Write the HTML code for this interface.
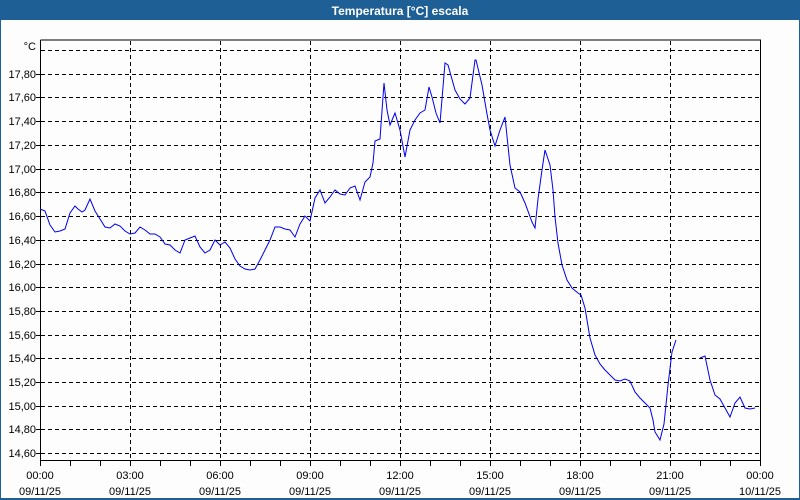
<!DOCTYPE html>
<html><head><meta charset="utf-8"><style>
body{margin:0;width:800px;height:500px;overflow:hidden;background:#fcfdfc}
svg{display:block;font-family:"Liberation Sans","DejaVu Sans",sans-serif}
</style></head><body>
<svg width="800" height="500" viewBox="0 0 800 500">
<rect x="0" y="0" width="800" height="500" fill="#1e5f96"/>
<rect x="1" y="20" width="798" height="478" fill="#fcfdfc"/>
<text x="400" y="15" text-anchor="middle" font-size="12" font-weight="bold" fill="#fff">Temperatura [°C] escala</text>
<g stroke="#000" stroke-width="1" stroke-dasharray="4,3" shape-rendering="crispEdges">
<line x1="41" x2="760" y1="50.5" y2="50.5"/><line x1="41" x2="760" y1="74.5" y2="74.5"/><line x1="41" x2="760" y1="97.5" y2="97.5"/><line x1="41" x2="760" y1="121.5" y2="121.5"/><line x1="41" x2="760" y1="145.5" y2="145.5"/><line x1="41" x2="760" y1="169.5" y2="169.5"/><line x1="41" x2="760" y1="192.5" y2="192.5"/><line x1="41" x2="760" y1="216.5" y2="216.5"/><line x1="41" x2="760" y1="240.5" y2="240.5"/><line x1="41" x2="760" y1="264.5" y2="264.5"/><line x1="41" x2="760" y1="287.5" y2="287.5"/><line x1="41" x2="760" y1="311.5" y2="311.5"/><line x1="41" x2="760" y1="335.5" y2="335.5"/><line x1="41" x2="760" y1="358.5" y2="358.5"/><line x1="41" x2="760" y1="382.5" y2="382.5"/><line x1="41" x2="760" y1="406.5" y2="406.5"/><line x1="41" x2="760" y1="429.5" y2="429.5"/><line x1="41" x2="760" y1="453.5" y2="453.5"/>
<line x1="130.5" x2="130.5" y1="41" y2="460"/><line x1="220.5" x2="220.5" y1="41" y2="460"/><line x1="310.5" x2="310.5" y1="41" y2="460"/><line x1="400.5" x2="400.5" y1="41" y2="460"/><line x1="490.5" x2="490.5" y1="41" y2="460"/><line x1="580.5" x2="580.5" y1="41" y2="460"/><line x1="670.5" x2="670.5" y1="41" y2="460"/>
</g>
<g stroke="#000" stroke-width="1" shape-rendering="crispEdges" fill="none">
<path d="M40.5 40 V460.5 H760.5 V40 H40.5"/>
<path d="M40.5 461V466 M70.5 461V466 M100.5 461V466 M130.5 461V466 M160.5 461V466 M190.5 461V466 M220.5 461V466 M250.5 461V466 M280.5 461V466 M310.5 461V466 M340.5 461V466 M370.5 461V466 M400.5 461V466 M430.5 461V466 M460.5 461V466 M490.5 461V466 M520.5 461V466 M550.5 461V466 M580.5 461V466 M610.5 461V466 M640.5 461V466 M670.5 461V466 M700.5 461V466 M730.5 461V466 M760.5 461V466"/>
<path d="M36 74.5H40 M36 97.5H40 M36 121.5H40 M36 145.5H40 M36 169.5H40 M36 192.5H40 M36 216.5H40 M36 240.5H40 M36 264.5H40 M36 287.5H40 M36 311.5H40 M36 335.5H40 M36 358.5H40 M36 382.5H40 M36 406.5H40 M36 429.5H40 M36 453.5H40"/>
</g>
<g font-size="11" fill="#000" text-anchor="end">
<text x="36" y="50">°C</text>
<text x="36" y="78">17,80</text><text x="36" y="101">17,60</text><text x="36" y="125">17,40</text><text x="36" y="149">17,20</text><text x="36" y="173">17,00</text><text x="36" y="196">16,80</text><text x="36" y="220">16,60</text><text x="36" y="244">16,40</text><text x="36" y="268">16,20</text><text x="36" y="291">16,00</text><text x="36" y="315">15,80</text><text x="36" y="339">15,60</text><text x="36" y="362">15,40</text><text x="36" y="386">15,20</text><text x="36" y="410">15,00</text><text x="36" y="433">14,80</text><text x="36" y="457">14,60</text>
</g>
<g font-size="11" fill="#000" text-anchor="middle">
<text x="40" y="479">00:00</text><text x="40" y="495">09/11/25</text>
<text x="130" y="479">03:00</text><text x="130" y="495">09/11/25</text>
<text x="220" y="479">06:00</text><text x="220" y="495">09/11/25</text>
<text x="310" y="479">09:00</text><text x="310" y="495">09/11/25</text>
<text x="400" y="479">12:00</text><text x="400" y="495">09/11/25</text>
<text x="490" y="479">15:00</text><text x="490" y="495">09/11/25</text>
<text x="580" y="479">18:00</text><text x="580" y="495">09/11/25</text>
<text x="670" y="479">21:00</text><text x="670" y="495">09/11/25</text>
<text x="760" y="479">00:00</text><text x="760" y="495">10/11/25</text>
</g>
<g fill="none" stroke="#0000ee" stroke-width="1">
<polyline points="40,209 45,211 50,225 55,232 60,231 65,229 70,213 75,206 78,209 82,212 85,210 90,199 95,211 100,219 105,227 110,228 115,224 120,226 125,231 130,234 135,233 140,227 145,230 150,234 155,234 160,237 165,244 170,245 175,250 180,253 185,240 190,238 195,236 200,247 205,253 210,250 215,240 220,245 225,242 230,248 235,259 240,266 245,269 250,270 255,269 260,260 265,250 270,240 275,227 280,227 285,229 290,230 295,237 300,224 305,216 310,221 315,198 320,190 325,203 330,197 335,190 340,194 345,195 350,188 355,186 360,200 365,182 370,177 373,163 375,141 380,139 384,83 387,110 390,125 395,113 400,130 405,157 410,130 415,120 420,113 425,110 429,87 432,97 436,113 440,123 445,63 448,65 455,90 460,99 465,104 470,98 475,60 476,60 482,85 487,114 490,130 495,146 500,130 505,117 510,165 515,188 520,192 525,203 532,222 535,228 538,199 542,170 545,150 550,165 553,190 555,217 558,243 562,265 567,280 572,288 578,293 581,295 585,308 590,338 595,355 600,364 605,370 610,375 615,380 620,381 625,379 630,381 635,392 640,398 645,403 650,408 653,420 655,432 660,440 664,424 668,385 672,352 676,340"/>
<polyline points="700,358 705,356 710,380 715,395 720,399 725,408 730,417 735,403 740,397 745,408 750,409 755,408"/>
</g>
</svg>
</body></html>
